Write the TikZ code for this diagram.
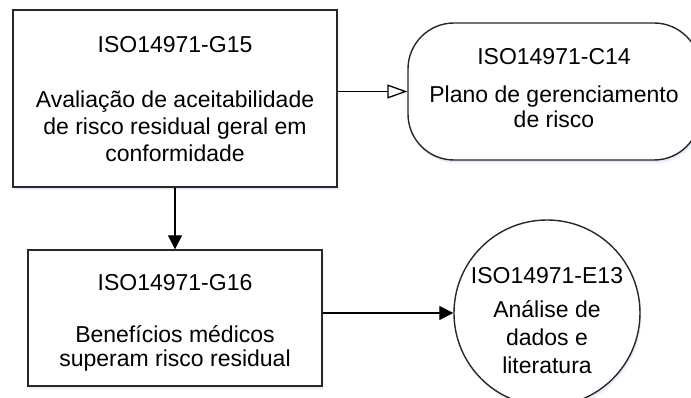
\documentclass[tikz,border=0pt]{standalone}
\usepackage{fontspec}
\setmainfont{Liberation Sans}
\usetikzlibrary{arrows.meta,shadows,shapes.geometric}
\definecolor{shadowa}{RGB}{226,234,248}
\definecolor{shadowb}{RGB}{240,244,252}
\definecolor{edge}{RGB}{40,40,40}
\tikzset{
  shp/.style={draw=edge, line width=1.4pt, fill=white, inner sep=0pt,
    general shadow={shadow xshift=1.5pt, shadow yshift=-3.5pt, shadow scale=1.0, fill=shadowb},
    general shadow={shadow xshift=1pt, shadow yshift=-2pt, fill=shadowa}},
  boxshape/.style={shp, rectangle},
  termshape/.style={shp, rectangle, rounded corners=46pt},
  circshape/.style={shp, circle},
  txt/.style={anchor=base, align=center, inner sep=0pt, font=\fontsize{23}{27.4}\selectfont},
  conn/.style={line width=1.3pt, draw=black},
  filledtip/.style={-{Triangle[length=14pt,width=14pt]}},
  opentip/.style={-{Triangle[open,length=20pt,width=14pt,line width=1.3pt]}},
}
\begin{document}
\begin{tikzpicture}[x=1pt,y=-1pt]
\useasboundingbox (0,0) rectangle (691,398);
\clip (0,0) rectangle (691,398);
\fill[white] (0,0) rectangle (691,398);

\node[boxshape, minimum width=324pt, minimum height=177pt] (g15) at (175,98.5) {};
\node[boxshape, minimum width=294pt, minimum height=136pt] (g16) at (175,318) {};
\node[termshape, minimum width=292pt, minimum height=137pt] (c14) at (554,91.5) {};
\node[circshape, minimum size=186pt] (e13) at (547,313) {};

\node[txt] (t15) at (175,162) {ISO14971-G15\\[27.4pt]Avaliação de aceitabilidade\\de risco residual geral em\\conformidade};
\node[txt, font=\fontsize{23}{24}\selectfont] (t16) at (175,366) {ISO14971-G16\\[28pt]Benefícios médicos\\superam risco residual};
\node[txt, font=\fontsize{23}{25}\selectfont] (tc14) at (554,128) {ISO14971-C14\\[13pt]Plano de gerenciamento\\de risco};
\node[txt, font=\fontsize{23}{28}\selectfont] (te13) at (547,373) {ISO14971-E13\\[6pt]Análise de\\dados e\\literatura};

\draw[conn, opentip] (g15.east |- c14.west) -- (c14.west);
\draw[conn, filledtip] (g15.south) -- (g16.north);
\draw[conn, filledtip] (g16.east |- e13.west) -- (e13.west);
\end{tikzpicture}
\end{document}
